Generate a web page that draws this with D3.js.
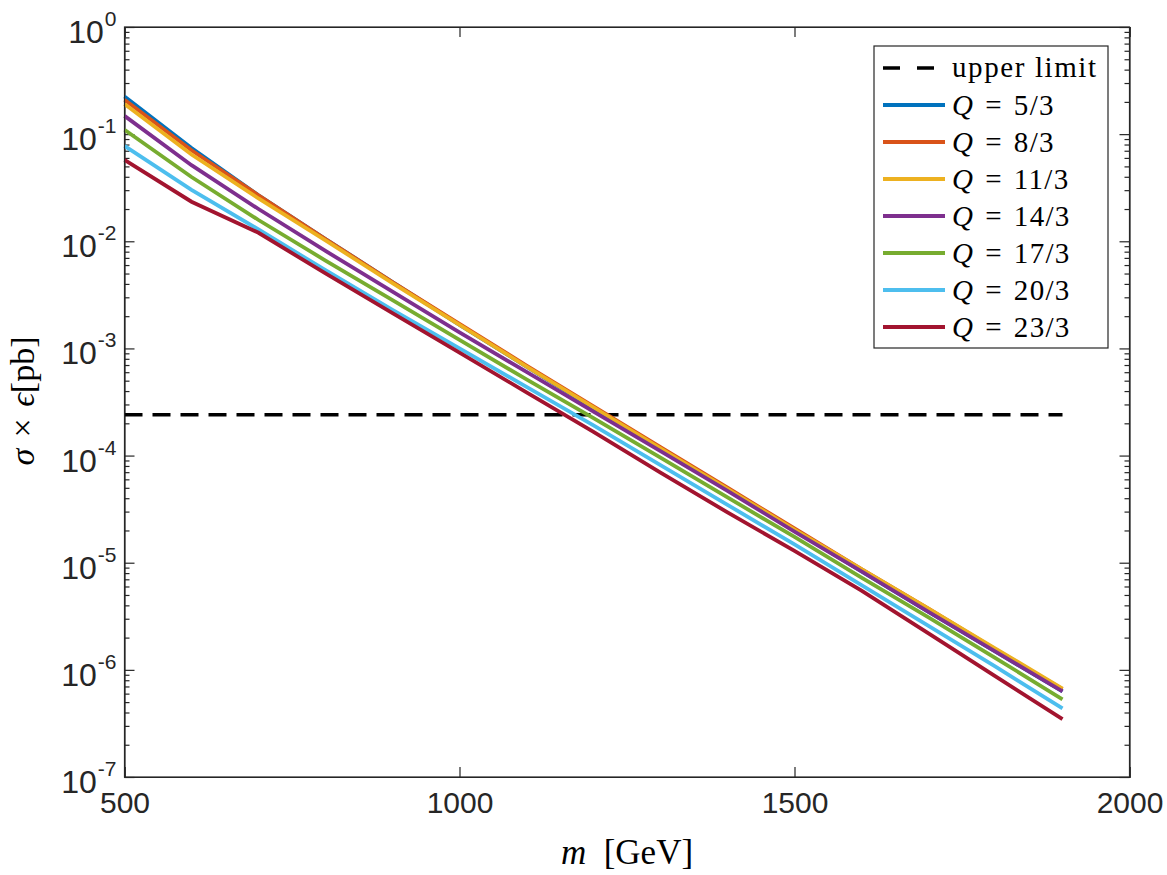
<!DOCTYPE html>
<html>
<head>
<meta charset="utf-8">
<script src="https://cdn.jsdelivr.net/npm/d3@7"></script>
<style>
  body { margin: 0; background: #fff; }
  .axis path, .axis line { stroke: #262626; stroke-width: 1.2; fill: none; }
  .tick-label { font-family: "Liberation Sans", Arial, sans-serif; fill: #262626; }
  .latex { font-family: "Liberation Serif", "Times New Roman", serif; fill: #000; }
</style>
</head>
<body>
<div id="chart"></div>
<script>
// Mass points [GeV]
var MASSES = [500, 600, 700, 800, 900, 1000, 1100, 1200, 1300, 1400, 1500, 1600, 1700, 1800, 1900];

// sigma x eff [pb], one array per charge
var Q5_3  = [0.224, 0.0741, 0.0269, 1.05e-2, 4.17e-3, 1.66e-3, 6.76e-4, 2.75e-4, 1.15e-4, 4.79e-5, 2.00e-5, 8.32e-6, 3.47e-6, 1.48e-6, 6.31e-7];
var Q8_3  = [0.209, 0.0708, 0.0269, 1.05e-2, 4.17e-3, 1.70e-3, 6.92e-4, 2.88e-4, 1.20e-4, 5.01e-5, 2.09e-5, 8.71e-6, 3.72e-6, 1.55e-6, 6.61e-7];
var Q11_3 = [0.191, 0.0646, 0.0251, 1.02e-2, 4.07e-3, 1.66e-3, 6.76e-4, 2.82e-4, 1.17e-4, 4.90e-5, 2.04e-5, 8.71e-6, 3.72e-6, 1.58e-6, 6.68e-7];
var Q14_3 = [0.148, 0.0513, 0.0200, 8.13e-3, 3.39e-3, 1.41e-3, 6.03e-4, 2.57e-4, 1.10e-4, 4.68e-5, 1.95e-5, 8.32e-6, 3.47e-6, 1.48e-6, 6.31e-7];
var Q17_3 = [0.110, 0.0398, 0.0158, 6.61e-3, 2.82e-3, 1.20e-3, 5.13e-4, 2.24e-4, 9.55e-5, 4.07e-5, 1.74e-5, 7.24e-6, 3.09e-6, 1.29e-6, 5.31e-7];
var Q20_3 = [0.0776, 0.0302, 0.0129, 5.37e-3, 2.29e-3, 1.00e-3, 4.37e-4, 1.91e-4, 8.13e-5, 3.47e-5, 1.48e-5, 6.17e-6, 2.57e-6, 1.07e-6, 4.37e-7];
var Q23_3 = [0.0575, 0.0234, 0.0120, 5.01e-3, 2.14e-3, 9.12e-4, 3.89e-4, 1.66e-4, 6.92e-5, 2.95e-5, 1.29e-5, 5.50e-6, 2.19e-6, 8.71e-7, 3.47e-7];

// upper limit [pb]
var UPPER_LIMIT = 2.4e-4;

var SERIES_NAMES = ['5/3', '8/3', '11/3', '14/3', '17/3', '20/3', '23/3'];
var SERIES_VALUES = [Q5_3, Q8_3, Q11_3, Q14_3, Q17_3, Q20_3, Q23_3];
var COLORS = ['#0072BD', '#D95319', '#EDB120', '#7E2F8E', '#77AC30', '#4DBEEE', '#A2142F'];

// Axis ticks
var X_TICKS = [500, 1000, 1500, 2000];
var Y_EXPONENTS = [0, -1, -2, -3, -4, -5, -6, -7];

var W = 1167, H = 875;
var pLeft = 124.5, pRight = 1129.5, pTop = 27, pBottom = 777;

var svg = d3.select('#chart').append('svg')
  .attr('width', W)
  .attr('height', H);

var x = d3.scaleLinear().domain([500, 2000]).range([pLeft, pRight]);
var y = d3.scaleLog().domain([1e-7, 1]).range([pBottom, pTop]);

var majorY = Y_EXPONENTS.map(function(e) { return Math.pow(10, e); });
var minorY = [];
Y_EXPONENTS.forEach(function(e) {
  if (e === 0) return;
  for (var k = 2; k <= 9; k++) minorY.push(k * Math.pow(10, e));
});

// minor y ticks, both sides
svg.append('g').attr('class', 'axis')
  .attr('transform', 'translate(' + pLeft + ',0)')
  .call(d3.axisLeft(y).tickValues(minorY).tickSize(-5).tickFormat(''))
  .select('.domain').remove();
svg.append('g').attr('class', 'axis')
  .attr('transform', 'translate(' + pRight + ',0)')
  .call(d3.axisRight(y).tickValues(minorY).tickSize(-5).tickFormat(''))
  .select('.domain').remove();

// major y ticks
svg.append('g').attr('class', 'axis')
  .attr('transform', 'translate(' + pLeft + ',0)')
  .call(d3.axisLeft(y).tickValues(majorY).tickSize(-10).tickFormat(''));
svg.append('g').attr('class', 'axis')
  .attr('transform', 'translate(' + pRight + ',0)')
  .call(d3.axisRight(y).tickValues(majorY).tickSize(-10).tickFormat(''));

// y tick labels as 10^n
Y_EXPONENTS.forEach(function(e) {
  var t = svg.append('text')
    .attr('class', 'tick-label')
    .attr('x', pLeft - 8)
    .attr('y', y(Math.pow(10, e)) + 16)
    .attr('text-anchor', 'end')
    .style('font-size', '32px');
  t.append('tspan').text('10');
  t.append('tspan')
    .attr('dy', -17)
    .attr('dx', 1)
    .style('font-size', '21px')
    .text(e);
});

// x axes
svg.append('g').attr('class', 'axis')
  .attr('transform', 'translate(0,' + pBottom + ')')
  .call(d3.axisBottom(x).tickValues(X_TICKS).tickSize(-10).tickPadding(15).tickFormat(d3.format('d')))
  .selectAll('text')
  .attr('class', 'tick-label')
  .style('font-size', '30px');
svg.append('g').attr('class', 'axis')
  .attr('transform', 'translate(0,' + pTop + ')')
  .call(d3.axisTop(x).tickValues(X_TICKS).tickSize(-10).tickFormat(''));

// upper limit line
svg.append('line')
  .attr('x1', x(MASSES[0])).attr('x2', x(MASSES[MASSES.length - 1]))
  .attr('y1', y(UPPER_LIMIT)).attr('y2', y(UPPER_LIMIT))
  .attr('stroke', '#000')
  .attr('stroke-width', 3.5)
  .attr('stroke-dasharray', '18,10');

// series lines
var line = d3.line()
  .x(function(d, i) { return x(MASSES[i]); })
  .y(function(d) { return y(d); });

SERIES_VALUES.forEach(function(vals, i) {
  svg.append('path')
    .datum(vals)
    .attr('d', line)
    .attr('fill', 'none')
    .attr('stroke', COLORS[i])
    .attr('stroke-width', 3.8);
});

// axis titles
var xt = svg.append('text')
  .attr('class', 'latex')
  .attr('x', 627).attr('y', 864)
  .attr('text-anchor', 'middle')
  .style('font-size', '35px');
xt.append('tspan').style('font-style', 'italic').text('m');
xt.append('tspan').text('\u2002[GeV]');

var yt = svg.append('text')
  .attr('class', 'latex')
  .attr('transform', 'translate(34,' + 401 + ') rotate(-90)')
  .attr('text-anchor', 'middle')
  .style('font-size', '34px');
yt.append('tspan').style('font-style', 'italic').text('\u03C3');
yt.append('tspan').text('\u2004\u00D7\u2004');
yt.append('tspan').style('font-style', 'italic').text('\u03F5');
yt.append('tspan').text('[pb]');

// legend
var lg = svg.append('g').attr('transform', 'translate(874,46)');
lg.append('rect')
  .attr('width', 234).attr('height', 302)
  .attr('fill', '#fff')
  .attr('stroke', '#262626')
  .attr('stroke-width', 1.2);

var rowH = 37;
lg.append('line')
  .attr('x1', 9).attr('x2', 71)
  .attr('y1', 22).attr('y2', 22)
  .attr('stroke', '#000').attr('stroke-width', 3.5)
  .attr('stroke-dasharray', '17,17');
lg.append('text')
  .attr('class', 'latex')
  .attr('x', 78).attr('y', 31)
  .style('font-size', '29px')
  .style('letter-spacing', '1.6px')
  .text('upper limit');

SERIES_NAMES.forEach(function(name, i) {
  var cy = 22 + rowH * (i + 1);
  lg.append('line')
    .attr('x1', 9).attr('x2', 71)
    .attr('y1', cy).attr('y2', cy)
    .attr('stroke', COLORS[i]).attr('stroke-width', 3.8);
  var t = lg.append('text')
    .attr('class', 'latex')
    .attr('x', 78).attr('y', cy + 10)
    .style('font-size', '29px')
    .style('letter-spacing', '1.3px');
  t.append('tspan').style('font-style', 'italic').text('Q');
  t.append('tspan').text('\u2004=\u2004' + name);
});

// box border
svg.append('rect')
  .attr('x', pLeft).attr('y', pTop)
  .attr('width', pRight - pLeft).attr('height', pBottom - pTop)
  .attr('fill', 'none')
  .attr('stroke', '#262626')
  .attr('stroke-width', 1.2);
</script>
</body>
</html>
